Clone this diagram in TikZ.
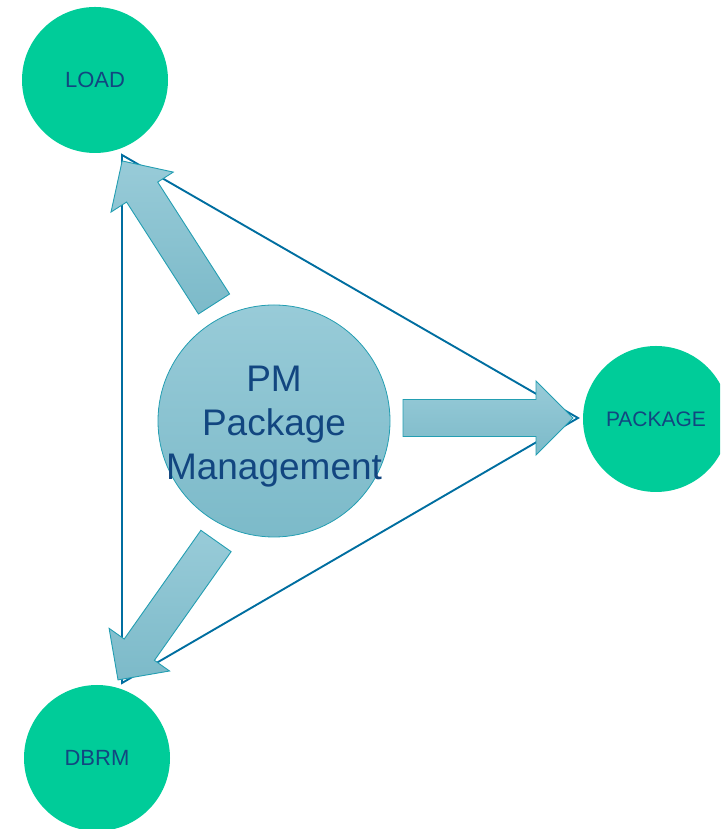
\documentclass[tikz,border=0pt]{standalone}
\usepackage{fontspec}
\setmainfont{Liberation Sans}
\usetikzlibrary{calc}

\definecolor{mint}{RGB}{0,204,153}
\definecolor{labelblue}{RGB}{18,70,128}
\definecolor{edgeblue}{RGB}{0,110,160}
\definecolor{tealline}{RGB}{35,158,178}
\definecolor{tealtop}{RGB}{152,203,216}
\definecolor{tealbot}{RGB}{124,186,201}

\tikzset{
  outer/.style={circle, fill=mint, draw=none, minimum size=146pt, inner sep=0pt,
    text=labelblue, font=\fontsize{22}{26}\selectfont},
  hub/.style={circle, draw=tealline, line width=0.8pt, top color=tealtop,
    bottom color=tealbot, minimum size=232pt, inner sep=0pt},
  hubtext/.style={align=center, inner sep=0pt, text=labelblue,
    font=\fontsize{37}{44}\selectfont},
  edge/.style={draw=edgeblue, line width=1.9pt, line join=miter, miter limit=20},
  blockarrow/.style={draw=tealline, line width=0.9pt, top color=tealtop,
    bottom color=tealbot, line join=miter},
  bigarrow/.pic={
    \path[blockarrow] (0,-18.5) -- (133,-18.5) -- (133,-37) -- (170,0)
      -- (133,37) -- (133,18.5) -- (0,18.5) -- cycle;
  }
}

\begin{document}
\begin{tikzpicture}[x=1pt,y=1pt]
  \useasboundingbox (0,0) rectangle (720,829);
  \clip (0,0) rectangle (720,829);

  % corners of the triangle of links
  \coordinate (tl) at (122,674);
  \coordinate (tr) at (578,411);
  \coordinate (tb) at (122,146);
  \draw[edge] (tl) -- (tr) -- (tb) -- cycle;

  % the three satellite modules
  \node[outer] (load) at (95,749) {LOAD};
  \node[outer] (package) at (656,410) {\fontsize{21}{25}\selectfont PACKAGE};
  \node[outer] (dbrm) at (97,71) {DBRM};

  % central module
  \node[hub] (pm) at (274,408) {};
  \node[hubtext] (pmlabel) at (274,402.5) {PM\\Package\\Management};

  % block arrows out of the centre
  \pic[rotate=0] at (403,411) {bigarrow};
  \pic[rotate=122.7] at (214,525) {bigarrow};
  \pic[rotate=234.8] at (216,288) {bigarrow};
\end{tikzpicture}
\end{document}
